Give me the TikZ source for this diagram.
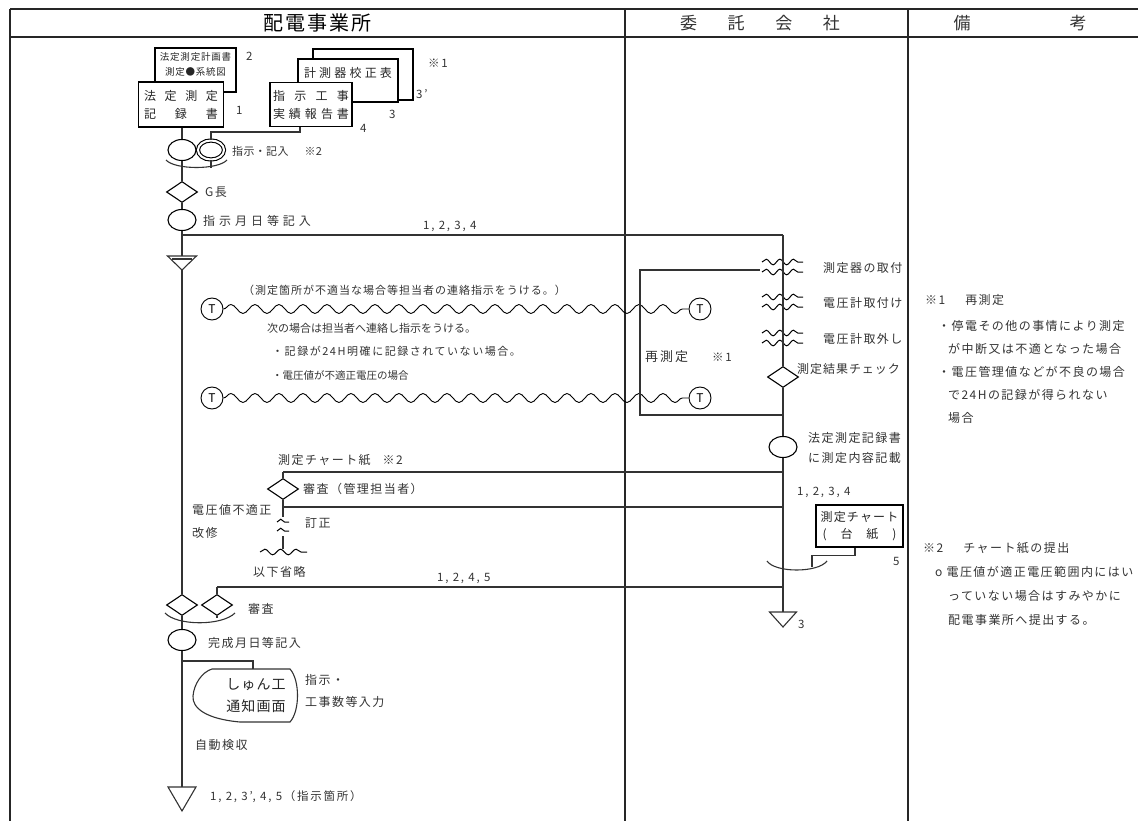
\documentclass[tikz,border=0pt]{standalone}
\usepackage{fontspec}
\setmainfont{Noto Sans CJK JP}
\usetikzlibrary{shapes.geometric,decorations.pathmorphing,positioning}
\newcommand{\spaced}[2]{\makebox[#1][s]{#2}}
\newcommand{\jpfont}[3]{\fontsize{#1}{#2}\selectfont\addfontfeature{LetterSpace=#3}}

\begin{document}
\begin{tikzpicture}[
        x=1pt, y=-1pt,
        frame/.style={line width=1.5pt, black!85},
        flow/.style={line width=1.1pt, black!80},
        lbl/.style={anchor=west, inner sep=0pt, text=black!80, font=\jpfont{12}{14}{12}},
        num/.style={anchor=west, inner sep=0pt, text=black!80, font=\jpfont{11.5}{13}{15}},
        doc/.style={draw, line width=1.1pt, fill=white, align=center, inner sep=0pt, text=black!85, font=\jpfont{12}{18}{0}},
        oval/.style={draw, line width=1.1pt, ellipse, minimum width=28pt, minimum height=21pt, inner sep=0pt},
        judge/.style={draw, line width=1.1pt, diamond, minimum width=31pt, minimum height=21pt, inner sep=0pt},
        tnode/.style={draw, line width=0.9pt, circle, minimum size=22pt, inner sep=0pt, font=\fontsize{12}{12}\selectfont},
        wave/.style={line width=0.9pt, decorate, decoration={snake, segment length=24pt, amplitude=4.5pt}},
        tilde/.style={line width=1pt, decorate, decoration={snake, segment length=13.6pt, amplitude=2.8pt}}
    ]
        \useasboundingbox (0,0) rectangle (1138,821);

        % Table frame
        \draw[frame] (10,9) -- (1138,9);
        \draw[frame] (10,37) -- (1138,37);
        \draw[frame] (10,9) -- (10,821);
        \draw[frame] (625,9) -- (625,821);
        \draw[frame] (908,9) -- (908,821);

        % Column heads
        \node[font=\jpfont{20}{20}{10}] (hdoffice) at (317,23) {配電事業所};
        \node[font=\jpfont{17}{17}{0}, text=black!80] (hdcontractor) at (760,23) {\spaced{160pt}{委\hfill 託\hfill 会\hfill 社}};
        \node[font=\jpfont{17}{17}{0}, text=black!80] (hdremarks) at (1020,23) {\spaced{133pt}{備\hfill 考}};

        % Documents
        \node[doc, minimum width=81pt, minimum height=44pt, text depth=12pt, font=\jpfont{9.5}{15}{8}] (doc2) at (195.5,70) {法定測定計画書\\測定●系統図};
        \node[doc, minimum width=85pt, minimum height=45pt] (doc1) at (181,104.5) {\spaced{74pt}{法\hfill 定\hfill 測\hfill 定}\\\spaced{74pt}{記\hfill 録\hfill 書}};
        \node[doc, minimum width=100pt, minimum height=51pt] (doc3b) at (363,74.5) {};
        \node[doc, minimum width=100pt, minimum height=43pt, text depth=16pt] (doc3) at (348,80.5) {\spaced{88pt}{計\hfill 測\hfill 器\hfill 校\hfill 正\hfill 表}};
        \node[doc, minimum width=82pt, minimum height=44pt] (doc4) at (311,104.5) {\spaced{76pt}{指\hfill 示\hfill 工\hfill 事}\\\spaced{76pt}{実\hfill 績\hfill 報\hfill 告\hfill 書}};
        \node[num] (ndoc2) at (246,56) {2};
        \node[num] (ndoc1) at (236,110) {1};
        \node[num] (ndoc3m) at (428,63) {※1};
        \node[num] (ndoc3b) at (416,94) {3'};
        \node[num] (ndoc3) at (389,114) {3};
        \node[num] (ndoc4) at (360,128) {4};

        % Instruction entry
        \node[oval] (rec) at (182,150) {};
        \node[oval, double, double distance=2pt, minimum width=26pt, minimum height=19pt] (inst) at (211,150) {};
        \node[lbl, font=\jpfont{11}{12}{3}] (instl) at (232,151) {指示・記入\hspace{16pt}※2};
        \draw[flow] (doc1.south -| rec) -- (rec);
        \draw[flow] ([xshift=-11pt]doc4.south) -- ++(0,5) -| (inst);
        \draw[flow] (inst) -- ++(0,18);
        \draw[flow] (166,160) .. controls (175,170) and (218,170) .. (227,160);

        % Main flow, office
        \node[judge] (glead) at (182,192) {};
        \node[lbl] (gleadl) at (205,192) {G長};
        \node[oval] (date) at (182,220) {};
        \node[lbl, font=\jpfont{12}{14}{33}] (datel) at (203,221) {指示月日等記入};
        \coordinate (br1) at (182,235);
        \coordinate (st1) at (182,256);
        \coordinate (st1b) at (182,270);
        \draw[flow] (rec) -- (glead);
        \draw[flow] (glead) -- (date);
        \draw[flow] (date) -- (st1);
        \draw[flow] (st1) ++(-14.5,0) -- ++(29,0) -- ++(-14.5,14) -- cycle;
        \draw[flow] (st1) ++(-10,3) -- ++(20,0);

        % Hand over to contractor
        \coordinate (rt1) at (783,235);
        \draw[flow] (br1) -- (rt1);
        \node[num] (lst1) at (423,226) {1, 2, 3, 4};

        % Telephone contacts
        \node[tnode] (tl1) at (212,309) {T};
        \node[tnode] (tr1) at (700,309) {T};
        \node[tnode] (tl2) at (212,398) {T};
        \node[tnode] (tr2) at (700,398) {T};
        \draw[wave] (tl1) -- (tr1);
        \draw[wave] (tl2) -- (tr2);
        \node[lbl, font=\jpfont{11}{12}{9}] (call1) at (243,290) {（測定箇所が不適当な場合等担当者の連絡指示をうける。）};
        \node[lbl, font=\jpfont{11}{12}{0}] (call2) at (267,328) {次の場合は担当者へ連絡し指示をうける。};
        \node[lbl, font=\jpfont{11}{12}{14}] (call3) at (272,351) {・記録が24H明確に記録されていない場合。};
        \node[lbl, font=\jpfont{10.5}{12}{0}] (call4) at (272,375) {・電圧値が不適正電圧の場合};

        % Contractor work
        \foreach \y in {262,272,297,307,333,343}
            \draw[tilde] (762,\y) -- (803,\y);
        \node[lbl] (fix) at (823,268) {測定器の取付};
        \node[lbl] (vmon) at (823,303) {電圧計取付け};
        \node[lbl] (vmoff) at (823,339) {電圧計取外し};
        \draw[flow] (760,270) -- (640,270) -- (640,415) -- (783,415);
        \node[lbl, font=\jpfont{13}{14}{15}] (redo) at (645,357) {再測定};
        \node[num] (redom) at (712,357) {※1};
        \node[judge] (chk) at (783,377) {};
        \node[lbl, font=\jpfont{12}{14}{8}] (chkl) at (797,369) {測定結果チェック};
        \node[oval] (rep) at (783,447) {};
        \node[lbl] (repl1) at (808,438) {法定測定記録書};
        \node[lbl] (repl2) at (808,458) {に測定内容記載};
        \node[num] (lst2) at (797,492) {1, 2, 3, 4};
        \coordinate (st3) at (783,612);
        \draw[flow] (rt1) -- (chk);
        \draw[flow] (chk) -- (rep);
        \draw[flow] (rep) -- (st3);
        \draw[flow] (st3) ++(-13.5,0) -- ++(27,0) -- ++(-13.5,15) -- cycle;
        \node[num] (st3l) at (798,624) {3};

        % Chart paper
        \node[doc, minimum width=87pt, minimum height=42pt, font=\jpfont{12}{17}{10}] (chart) at (859.5,526) {測定チャート\\\spaced{74pt}{(\hfill 台\hfill 紙\hfill )}};
        \node[num] (chartn) at (893,561) {5};
        \coordinate (cj) at (812,567);
        \draw[flow] ([xshift=-4.5pt]chart.south) -- ++(0,8) -| (cj);
        \draw[flow] (767,561) .. controls (775,573) and (818,573) .. (827,561);

        % Chart check, office
        \coordinate (cp) at (283,472);
        \coordinate (cpr) at (783,472);
        \coordinate (fx) at (283,507);
        \coordinate (fxr) at (783,507);
        \node[lbl] (cpl) at (278,460) {測定チャート紙\hspace{12pt}※2};
        \node[judge] (aud) at (283,489) {};
        \node[lbl] (audl) at (303,489) {審査（管理担当者）};
        \draw[flow] (cp) -- (cpr);
        \draw[flow] (cp) -- (aud);
        \draw[flow] (fx) -- (fxr);
        \draw[flow] (aud) -- (283,517);
        \draw[tilde, decoration={segment length=12pt}] (277,522) -- (289,522);
        \draw[tilde, decoration={segment length=12pt}] (277,531) -- (289,531);
        \draw[flow] (283,536) -- (283,549);
        \draw[tilde, decoration={segment length=15.6pt}] (260,552) -- (307,552);
        \node[lbl] (badv) at (192,510) {電圧値不適正};
        \node[lbl] (badv2) at (192,533) {改修};
        \node[lbl] (corr) at (305,523) {訂正};
        \node[lbl] (omit) at (253,572) {以下省略};

        % Final check
        \coordinate (ck) at (217,587);
        \coordinate (ckr) at (783,587);
        \node[num] (lst3) at (437,578) {1, 2, 4, 5};
        \node[judge] (aud1) at (182,605) {};
        \node[judge] (aud2) at (217,605) {};
        \node[lbl] (audl2) at (248,609) {審査};
        \draw[flow] (ck) -- (ckr);
        \draw[flow] (ck) -- (aud2);
        \draw[flow] (st1b) -- (aud1);
        \draw[flow] (aud2) -- ++(0,13);
        \draw[flow] (165,613) .. controls (177,626) and (222,626) .. (235,613);

        % Completion
        \node[oval] (comp) at (182,640) {};
        \node[lbl] (compl) at (208,643) {完成月日等記入};
        \coordinate (br2) at (182,661);
        \coordinate (disp) at (253,669);
        \coordinate (st4) at (182,787);
        \draw[flow] (aud1) -- (comp);
        \draw[flow] (comp) -- (st4);
        \draw[flow] (br2) -| (disp);
        \draw[flow] (212,669) -- (290,669) .. controls (300,680) and (300,711) .. (290,722) -- (240,722) .. controls (206,719) and (192,708) .. (193,696) .. controls (194,684) and (202,672) .. (212,669) -- cycle;
        \node[align=center, text=black!85, font=\jpfont{14}{22}{8}] (dispt) at (256,696) {しゅん工\\通知画面};
        \node[lbl] (displ1) at (305,680) {指示・};
        \node[lbl] (displ2) at (305,702) {工事数等入力};
        \node[lbl] (auto) at (195,745) {自動検収};
        \draw[flow] (st4) ++(-14,0) -- ++(28,0) -- ++(-14,24) -- cycle;
        \node[num] (st4l) at (210,797) {1, 2, 3', 4, 5（指示箇所）};

        % Remarks
        \node[lbl] (rm1) at (925,300) {※1\hspace{20pt}再測定};
        \node[lbl] (rm1a) at (938,326) {・停電その他の事情により測定};
        \node[lbl] (rm1b) at (948,349) {が中断又は不適となった場合};
        \node[lbl] (rm1c) at (938,372) {・電圧管理値などが不良の場合};
        \node[lbl] (rm1d) at (948,395) {で24Hの記録が得られない};
        \node[lbl] (rm1e) at (948,418) {場合};
        \node[lbl] (rm2) at (923,548) {※2\hspace{20pt}チャート紙の提出};
        \node[lbl] (rm2a) at (935,572) {o 電圧値が適正電圧範囲内にはい};
        \node[lbl] (rm2b) at (948,596) {っていない場合はすみやかに};
        \node[lbl] (rm2c) at (948,620) {配電事業所へ提出する。};
    \end{tikzpicture}
\end{document}
